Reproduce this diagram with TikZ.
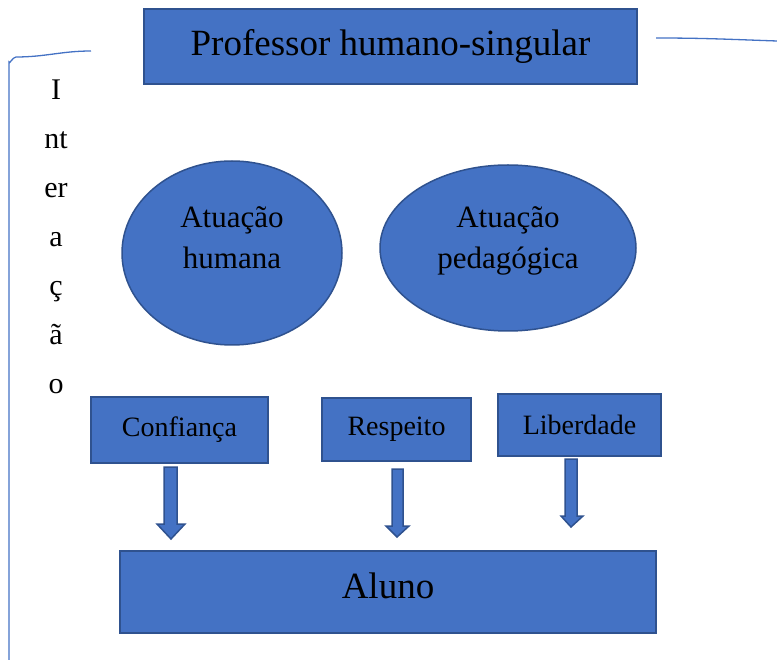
\documentclass[tikz,border=0pt]{standalone}
\usepackage{fontspec}
\setmainfont{Liberation Serif}
\usetikzlibrary{shapes.geometric}
\definecolor{boxfill}{HTML}{4472C4}
\definecolor{boxdraw}{HTML}{2F528F}
\tikzset{
  bluebox/.style={draw=boxdraw, fill=boxfill, line width=1.8pt, inner sep=0pt},
  blueoval/.style={ellipse, draw=boxdraw, fill=boxfill, line width=1.5pt, inner sep=0pt},
  ovaltext/.style={inner sep=0pt, align=center, font=\fontsize{31}{41}\selectfont},
  blockarrow/.style={draw=boxdraw, fill=boxfill, line width=1.5pt, line join=miter},
  frameline/.style={draw=boxfill, line width=1.3pt}
}
\begin{document}
\begin{tikzpicture}[x=1pt,y=-1pt]
\useasboundingbox (0,0) rectangle (777,660);
% frame lines
\draw[frameline] (9,660) -- (9,62) to[out=-90,in=180] (16,57) to[out=0,in=180] (91,51);
\draw[frameline] (656,38) to[out=0,in=178] (777,41);
% boxes
\node[bluebox, minimum width=493pt, minimum height=75pt, font=\fontsize{37}{40}\selectfont] (prof) at (390.5,46.5)
  {Professor humano-singular};
\node[blueoval, minimum width=220pt, minimum height=184pt] (hum) at (232,253) {};
\node[ovaltext] (humtxt) at (232,238) {Atuação\\humana};
\node[blueoval, minimum width=256pt, minimum height=166pt] (ped) at (508,248) {};
\node[ovaltext] (pedtxt) at (508,241) {Atuação\\pedagógica};
\node[bluebox, minimum width=177pt, minimum height=66pt, font=\fontsize{28}{32}\selectfont] (conf) at (179.5,430)
  {Confiança};
\node[bluebox, minimum width=149pt, minimum height=63pt, font=\fontsize{28}{32}\selectfont] (resp) at (396.5,429.5)
  {Respeito};
\node[bluebox, minimum width=163pt, minimum height=62pt, font=\fontsize{28}{32}\selectfont] (lib) at (579.5,425)
  {Liberdade};
\node[bluebox, minimum width=536pt, minimum height=82pt, font=\fontsize{37}{40}\selectfont, text depth=12pt] (aluno) at (388,592)
  {Aluno};
% vertical label
\node[anchor=north, inner sep=0pt, align=center, font=\fontsize{30}{49}\selectfont] (inter) at (56,80)
  {I\\nt\\er\\a\\ç\\ã\\o};
% block arrows
\draw[blockarrow] (164,467) -- (177,467) -- (177,524) -- (185,524) -- (171,539) -- (157,524) -- (164,524) -- cycle;
\draw[blockarrow] (392,469) -- (403,469) -- (403,526) -- (409,526) -- (397,537) -- (386,526) -- (392,526) -- cycle;
\draw[blockarrow] (565,459) -- (577,459) -- (577,516) -- (583,516) -- (571,527) -- (561,516) -- (565,516) -- cycle;
\end{tikzpicture}
\end{document}
